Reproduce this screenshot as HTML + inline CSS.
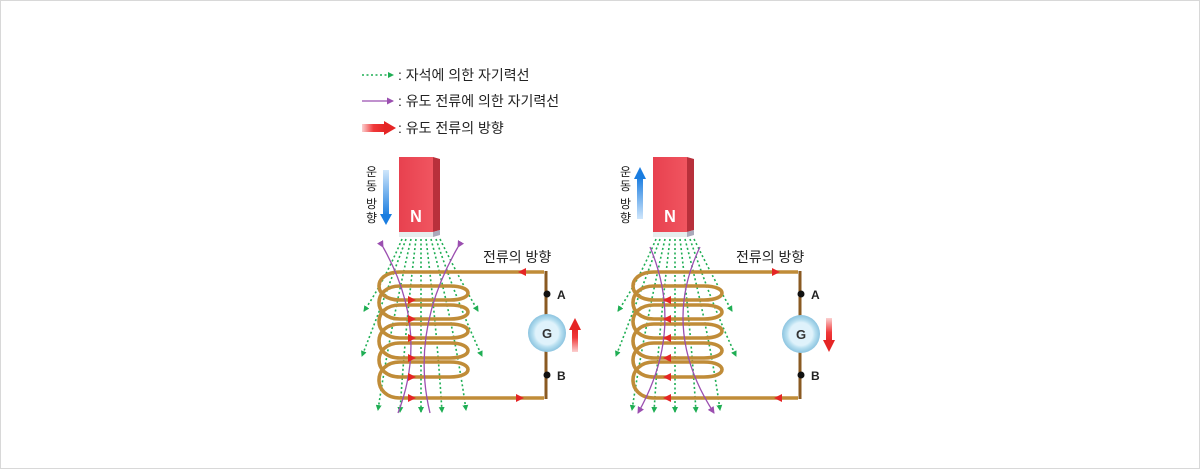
<!DOCTYPE html>
<html><head><meta charset="utf-8"><style>
html,body{margin:0;padding:0;background:#fff}
svg{display:block}
text{font-family:"Liberation Sans","Noto Sans CJK KR",sans-serif}
</style></head><body>
<svg width="1200" height="469" viewBox="0 0 1200 469" xmlns="http://www.w3.org/2000/svg">
<defs>
<linearGradient id="mag" x1="0" x2="1"><stop offset="0" stop-color="#e8414f"/><stop offset="1" stop-color="#f05560"/></linearGradient>
<linearGradient id="redh" x1="0" x2="1"><stop offset="0" stop-color="#fbd0d0"/><stop offset="0.5" stop-color="#f0393a"/><stop offset="1" stop-color="#e52525"/></linearGradient>
<linearGradient id="redup" x1="0" y1="1" x2="0" y2="0"><stop offset="0" stop-color="#fbd0d0"/><stop offset="0.6" stop-color="#f0393a"/><stop offset="1" stop-color="#e52525"/></linearGradient>
<linearGradient id="reddn" x1="0" y1="0" x2="0" y2="1"><stop offset="0" stop-color="#fbd0d0"/><stop offset="0.6" stop-color="#f0393a"/><stop offset="1" stop-color="#e52525"/></linearGradient>
<linearGradient id="bldn" x1="0" y1="0" x2="0" y2="1"><stop offset="0" stop-color="#cfe6fb"/><stop offset="1" stop-color="#1a7de0"/></linearGradient>
<linearGradient id="blup" x1="0" y1="1" x2="0" y2="0"><stop offset="0" stop-color="#cfe6fb"/><stop offset="1" stop-color="#1a7de0"/></linearGradient>
<radialGradient id="g"><stop offset="0.6" stop-color="#dff2fb"/><stop offset="0.75" stop-color="#b7dff0"/><stop offset="1" stop-color="#8cc4e0"/></radialGradient>
<marker id="ga" markerWidth="6" markerHeight="6" refX="5" refY="3" orient="auto" markerUnits="userSpaceOnUse"><path d="M0,0 L6,3 L0,6 Z" fill="#1fae54"/></marker>
<marker id="pa" markerWidth="7" markerHeight="7" refX="6" refY="3.5" orient="auto" markerUnits="userSpaceOnUse"><path d="M0,0 L7,3.5 L0,7 Z" fill="#9b4fb0"/></marker>
<g id="coil" fill="none" stroke="#c08c38" stroke-width="3.6" stroke-linejoin="round">
<path d="M544,272 L400,272 C372,272 372,300 400,300 L450,300 C474,300 474,286 450,286 L400,286 C372,286 372,319 400,319 L450,319 C474,319 474,305 450,305 L400,305 C372,305 372,338 400,338 L450,338 C474,338 474,324 450,324 L400,324 C372,324 372,358 400,358 L450,358 C474,358 474,343 450,343 L400,343 C372,343 372,377 400,377 L450,377 C474,377 474,362 450,362 L400,362 C372,362 372,398 400,398 L544,398"/>
</g>
<g id="green" fill="none" stroke="#1fae54" stroke-width="1.6" stroke-dasharray="2,2.5" marker-end="url(#ga)">
<path d="M402,239 Q385,280 364,311"/>
<path d="M406,239 Q380,310 362,356"/>
<path d="M411,239 Q390,330 378,410"/>
<path d="M416,239 Q405,330 400,412"/>
<path d="M421,239 L421,412"/>
<path d="M426,239 Q437,330 442,412"/>
<path d="M431,239 Q455,330 466,410"/>
<path d="M436,239 Q460,310 482,356"/>
<path d="M440,239 Q460,280 478,311"/>
</g>
</defs>
<rect x="0.5" y="0.5" width="1199" height="468" fill="#fff" stroke="#d8d8d8"/>

<line x1="362" y1="75" x2="393" y2="75" stroke="#1fae54" stroke-width="1.6" stroke-dasharray="2,2.5" marker-end="url(#ga)"/>
<text x="398" y="80" font-size="14" fill="#222">: 자석에 의한 자기력선</text>
<line x1="362" y1="101" x2="393" y2="101" stroke="#9b4fb0" stroke-width="1.3" marker-end="url(#pa)"/>
<text x="398" y="106" font-size="14" fill="#222">: 유도 전류에 의한 자기력선</text>
<rect x="362" y="124" width="23" height="8" fill="url(#redh)"/>
<path d="M384,121 L396,128 L384,135 Z" fill="#e52525"/>
<text x="398" y="133" font-size="14" fill="#222">: 유도 전류의 방향</text>

<!-- LEFT -->
<g>
<text font-size="12" fill="#222" x="366" y="176">운</text>
<text font-size="12" fill="#222" x="366" y="190">동</text>
<text font-size="12" fill="#222" x="366" y="208">방</text>
<text font-size="12" fill="#222" x="366" y="222">향</text>
<rect x="383" y="170" width="6" height="46" fill="url(#bldn)"/>
<path d="M380,214 L392,214 L386,225 Z" fill="#1a7de0"/>
<rect x="399" y="157" width="34" height="75" fill="url(#mag)"/>
<path d="M433,157 L440,159 L440,230 L433,232 Z" fill="#b8303b"/>
<rect x="399" y="232" width="34" height="5" fill="#e6eeee"/>
<path d="M433,232 L440,230 L440,235 L433,237 Z" fill="#aab"/>
<text x="416" y="222" font-size="18" font-weight="bold" fill="#fff" text-anchor="middle" transform="translate(416,0) scale(0.9,1) translate(-416,0)">N</text>
<use href="#green"/>
<use href="#coil"/>
<path d="M383,247 Q430,330 398,413" fill="none" stroke="#9b4fb0" stroke-width="1.3" marker-start="url(#pa)"/>
<path d="M458,247 Q410,330 430,413" fill="none" stroke="#9b4fb0" stroke-width="1.3" marker-start="url(#pa)"/>
<line x1="546" y1="271" x2="546" y2="399" stroke="#8a5a22" stroke-width="3"/>
<g fill="#e52525">
<path d="M408,296 L416,300 L408,304Z"/><path d="M408,315 L416,319 L408,323Z"/><path d="M408,334 L416,338 L408,342Z"/><path d="M408,354 L416,358 L408,362Z"/><path d="M408,373 L416,377 L408,381Z"/><path d="M408,394 L416,398 L408,402Z"/>
<path d="M526,268 L518,272 L526,276Z"/><path d="M516,394 L524,398 L516,402Z"/>
</g>
<circle cx="547" cy="294" r="3.5" fill="#111"/><circle cx="547" cy="375" r="3.5" fill="#111"/>
<text x="557" y="299" font-size="12" font-weight="bold" fill="#222">A</text>
<text x="557" y="380" font-size="12" font-weight="bold" fill="#222">B</text>
<circle cx="547" cy="333" r="19" fill="url(#g)"/>
<text x="547" y="338" font-size="13" font-weight="bold" fill="#333" text-anchor="middle">G</text>
<rect x="572" y="328" width="6" height="24" fill="url(#redup)"/>
<path d="M569,330 L575,318 L581,330 Z" fill="#e52525"/>
<text x="483" y="262" font-size="14" fill="#222">전류의 방향</text>
</g>

<!-- RIGHT -->
<g>
<text font-size="12" fill="#222" x="620" y="176">운</text>
<text font-size="12" fill="#222" x="620" y="190">동</text>
<text font-size="12" fill="#222" x="620" y="208">방</text>
<text font-size="12" fill="#222" x="620" y="222">향</text>
<rect x="637" y="177" width="6" height="42" fill="url(#blup)"/>
<path d="M634,179 L646,179 L640,167 Z" fill="#1a7de0"/>
<rect x="653" y="157" width="34" height="75" fill="url(#mag)"/>
<path d="M687,157 L694,159 L694,230 L687,232 Z" fill="#b8303b"/>
<rect x="653" y="232" width="34" height="5" fill="#e6eeee"/>
<path d="M687,232 L694,230 L694,235 L687,237 Z" fill="#aab"/>
<text x="670" y="222" font-size="18" font-weight="bold" fill="#fff" text-anchor="middle" transform="translate(670,0) scale(0.9,1) translate(-670,0)">N</text>
<g transform="translate(254,0)"><use href="#green"/><use href="#coil"/></g>
<path d="M650,247 Q685,330 638,413" fill="none" stroke="#9b4fb0" stroke-width="1.3" marker-end="url(#pa)"/>
<path d="M700,247 Q660,330 714,413" fill="none" stroke="#9b4fb0" stroke-width="1.3" marker-end="url(#pa)"/>
<line x1="800" y1="271" x2="800" y2="399" stroke="#8a5a22" stroke-width="3"/>
<g fill="#e52525">
<path d="M671,296 L663,300 L671,304Z"/><path d="M671,315 L663,319 L671,323Z"/><path d="M671,334 L663,338 L671,342Z"/><path d="M671,354 L663,358 L671,362Z"/><path d="M671,373 L663,377 L671,381Z"/><path d="M671,394 L663,398 L671,402Z"/>
<path d="M772,268 L780,272 L772,276Z"/><path d="M782,394 L774,398 L782,402Z"/>
</g>
<circle cx="801" cy="294" r="3.5" fill="#111"/><circle cx="801" cy="375" r="3.5" fill="#111"/>
<text x="811" y="299" font-size="12" font-weight="bold" fill="#222">A</text>
<text x="811" y="380" font-size="12" font-weight="bold" fill="#222">B</text>
<circle cx="801" cy="334" r="19" fill="url(#g)"/>
<text x="801" y="339" font-size="13" font-weight="bold" fill="#333" text-anchor="middle">G</text>
<rect x="826" y="318" width="6" height="24" fill="url(#reddn)"/>
<path d="M823,340 L829,352 L835,340 Z" fill="#e52525"/>
<text x="736" y="262" font-size="14" fill="#222">전류의 방향</text>
</g>
</svg>
</body></html>
